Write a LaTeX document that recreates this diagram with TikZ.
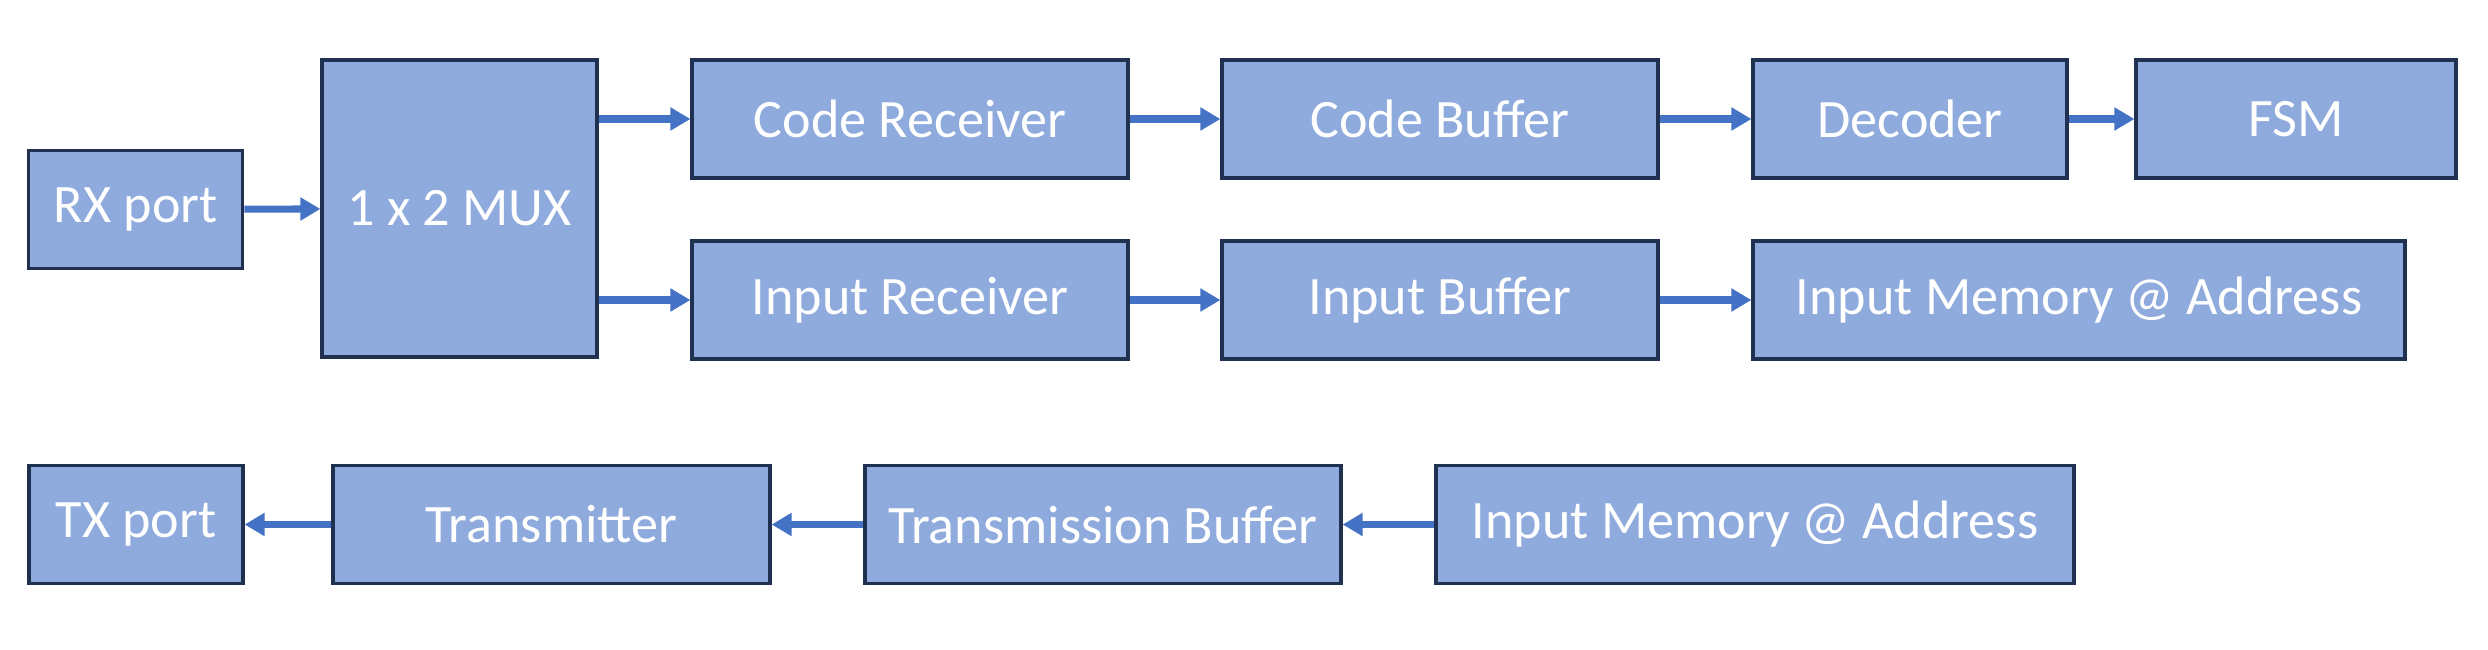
\documentclass[tikz,border=0pt]{standalone}
\usepackage{fontspec}
\setmainfont{Carlito}
\usetikzlibrary{arrows.meta}
\definecolor{blockfill}{HTML}{8FAADC}
\definecolor{blockline}{HTML}{1F3050}
\definecolor{flowblue}{HTML}{4472C4}
\tikzset{
  block/.style={draw=blockline, line width=0.9pt, fill=blockfill, text=white,
    minimum height=1.18cm, inner sep=0pt, font=\fontsize{15.4}{17}\selectfont},
  flow/.style={draw=flowblue, line width=2pt, -{Triangle[length=2mm,width=2.2mm]}}
}
\begin{document}
\begin{tikzpicture}
\useasboundingbox (0,0) rectangle (24.88,6.49);
% receive path
\node[block, minimum width=2.14cm] (rx) at (1.358,4.395) {RX port};
\node[block, minimum width=2.75cm, minimum height=2.97cm] (mux) at (4.595,4.405) {1 x 2 MUX};
\node[block, minimum width=4.36cm] (coderx) at (9.10,5.30) {Code Receiver};
\node[block, minimum width=4.36cm] (codebuf) at (14.40,5.30) {Code Buffer};
\node[block, minimum width=3.14cm] (dec) at (19.10,5.30) {Decoder};
\node[block, minimum width=3.20cm] (fsm) at (22.96,5.30) {FSM};
\node[block, minimum width=4.36cm] (inrx) at (9.10,3.49) {Input Receiver};
\node[block, minimum width=4.36cm] (inbuf) at (14.40,3.49) {Input Buffer};
\node[block, minimum width=6.52cm] (inmem) at (20.79,3.49) {Input Memory @ Address};
% transmit path
\node[block, minimum width=2.14cm] (tx) at (1.36,1.245) {TX port};
\node[block, minimum width=4.37cm] (trans) at (5.515,1.245) {Transmitter};
\node[block, minimum width=4.76cm] (transbuf) at (11.03,1.245) {Transmission Buffer};
\node[block, minimum width=6.38cm] (outmem) at (17.55,1.245) {Input Memory @ Address};
% connectors
\draw[flow] (rx) -- (mux);
\draw[flow] (mux.east |- coderx.west) -- (coderx.west);
\draw[flow] (mux.east |- inrx.west) -- (inrx.west);
\draw[flow] (coderx) -- (codebuf);
\draw[flow] (codebuf) -- (dec);
\draw[flow] (dec) -- (fsm);
\draw[flow] (inrx) -- (inbuf);
\draw[flow] (inbuf) -- (inmem);
\draw[flow] (outmem) -- (transbuf);
\draw[flow] (transbuf) -- (trans);
\draw[flow] (trans) -- (tx);
\end{tikzpicture}
\end{document}
